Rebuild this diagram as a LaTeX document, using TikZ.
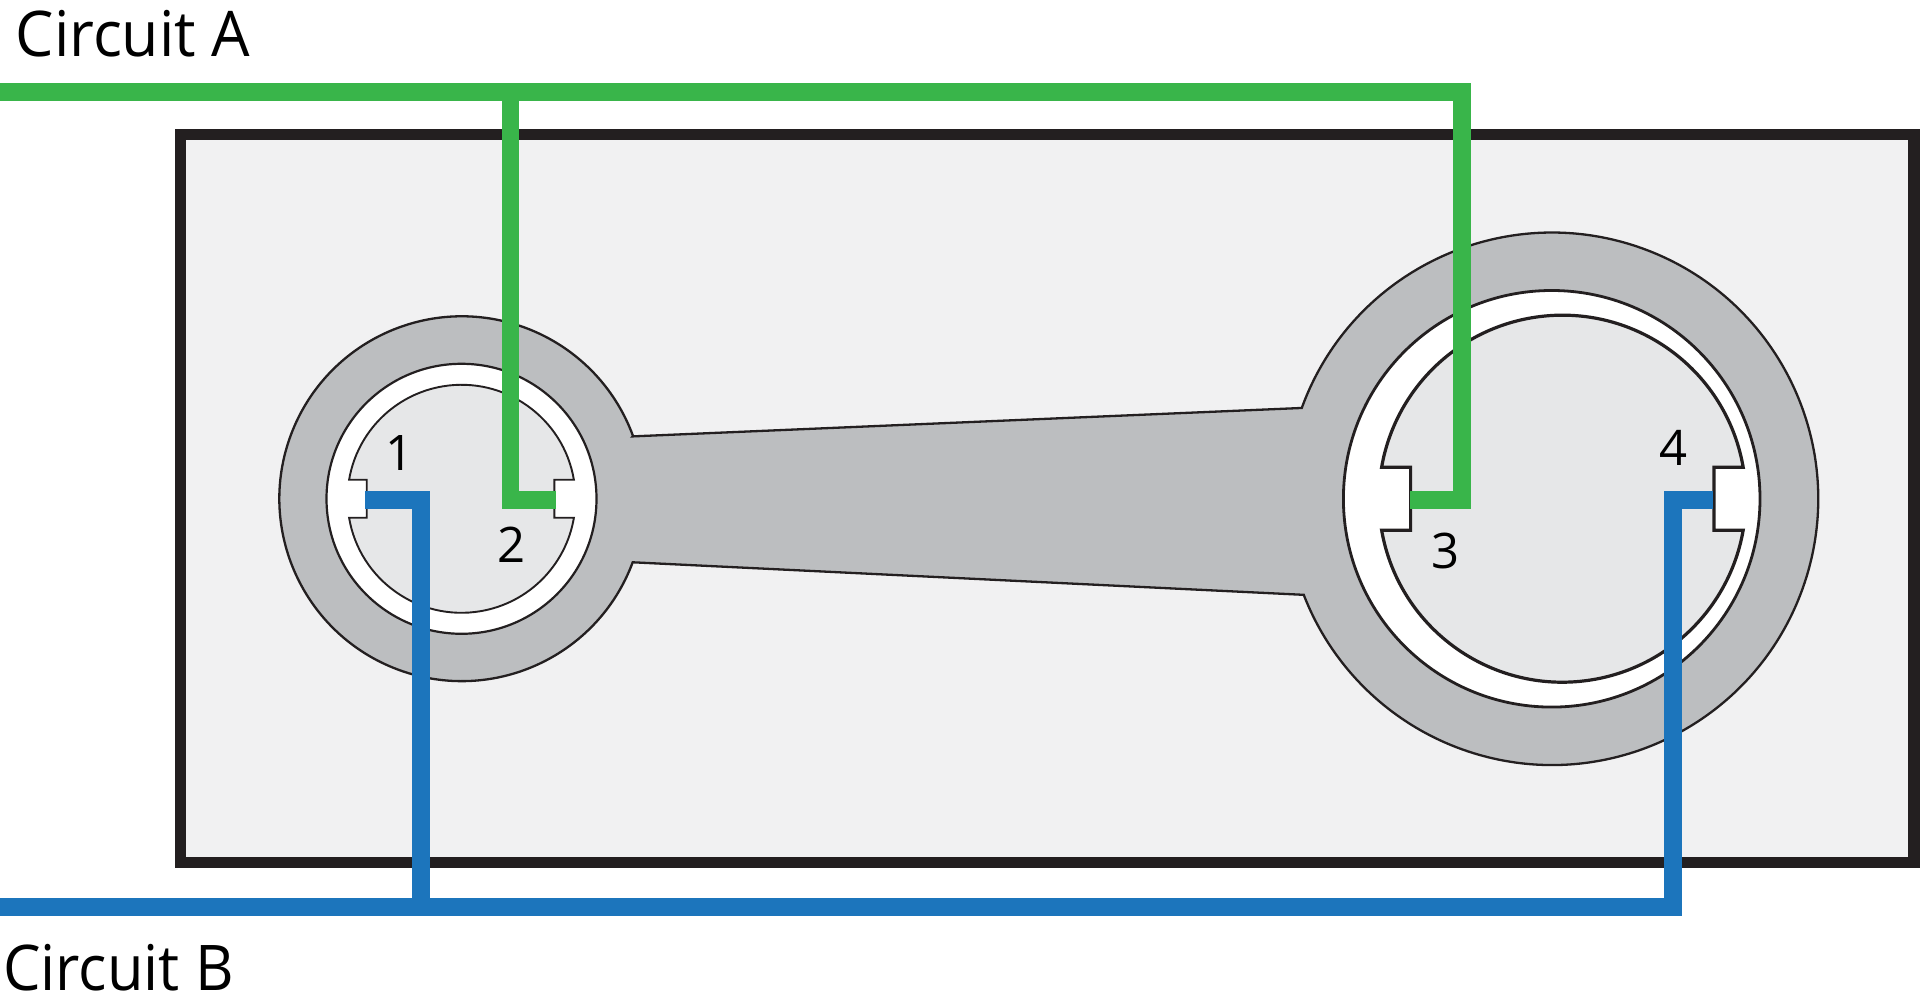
\documentclass[tikz,border=0pt]{standalone}
\usepackage{graphicx}
\usepackage{fontspec}
\setmainfont{Open Sans}
\definecolor{wireA}{HTML}{39B54A}
\definecolor{wireB}{HTML}{1C75BC}
\definecolor{frameK}{HTML}{231F20}
\definecolor{bodyF}{HTML}{F1F1F2}
\definecolor{handleF}{HTML}{BCBEC0}
\definecolor{padF}{HTML}{E6E7E8}
\tikzset{
  wirea/.style={draw=wireA,line width=17.7pt,line cap=butt,line join=miter,miter limit=10},
  wireb/.style={draw=wireB,line width=17.7pt,line cap=butt,line join=miter,miter limit=10},
  outline/.style={draw=frameK,line join=miter},
  title/.style={inner sep=0pt,anchor=base west,font=\fontsize{63}{70}\selectfont,text=black},
  digit/.style={inner sep=0pt,anchor=base,font=\fontsize{49}{55}\selectfont,text=black}
}
\begin{document}
\begin{tikzpicture}[x=1pt,y=1pt]
\useasboundingbox (0,0) rectangle (1920,1006);
\fill[white] (0,0) rectangle (1920,1006);
% body
\draw[draw=frameK,fill=bodyF,line width=11.5pt,line join=miter] (180.7,871.3) rectangle (1914,143.4);
% handle and two collars
\draw[outline,fill=handleF,line width=2.3pt]
  (632.7,569.6) -- ([shift={(1552,507.2)}]160.05:266.2)
  arc[start angle=160.05,end angle=-158.85,radius=266.2]
  -- (632.7,443.7)
  arc[start angle=-20.4,end angle=-339.9,radius=182.4] -- cycle;
% white rings
\draw[outline,fill=white,line width=2.2pt] (461.5,507.2) circle[radius=135];
\draw[outline,fill=white,line width=2.8pt] (1551.7,507.2) circle[radius=208.3];
% left pad
\draw[outline,fill=padF,line width=1.9pt]
  ([shift={(461.5,507.2)}]9.6:114) arc[start angle=9.6,end angle=170.4,radius=114]
  -- (366.7,526.2) -- (366.7,488.2) -- ([shift={(461.5,507.2)}]189.6:114)
  arc[start angle=189.6,end angle=350.4,radius=114]
  -- (554.3,488.2) -- (554.3,526.2) -- cycle;
% right pad
\draw[outline,fill=padF,line width=3.2pt]
  ([shift={(1562.4,507.3)}]9.88:183.5) arc[start angle=9.88,end angle=170.12,radius=183.5]
  -- (1410.6,538.8) -- (1410.6,475.8) -- ([shift={(1562.4,507.3)}]189.88:183.5)
  arc[start angle=189.88,end angle=350.12,radius=183.5]
  -- (1714,475.8) -- (1714,538.8) -- cycle;
% terminals
\coordinate (aStart) at (0,913.8);
\coordinate (aTee) at (510.5,913.8);
\coordinate (aEnd) at (1462.2,913.8);
\coordinate (pinTwo) at (555.7,505.7);
\coordinate (pinThree) at (1409.8,505.7);
\coordinate (bStart) at (0,99.2);
\coordinate (bTee) at (421,99.2);
\coordinate (bEnd) at (1672.8,99.2);
\coordinate (pinOne) at (365.3,505.7);
\coordinate (pinFour) at (1713,505.7);
% wires
\draw[wirea] (aTee) -- (aTee |- pinTwo) -- (pinTwo);
\draw[wirea] (aStart) -- (aEnd) -- (aEnd |- pinThree) -- (pinThree);
\draw[wireb] (bTee) -- (bTee |- pinOne) -- (pinOne);
\draw[wireb] (bStart) -- (bEnd) -- (bEnd |- pinFour) -- (pinFour);
% labels
\node[title] (circuitA) at (15.5,949) {\scalebox{0.965}[1]{Circuit A}};
\node[title] (circuitB) at (3,15.5) {\scalebox{0.945}[1]{Circuit B}};
\node[digit] (one) at (400,535) {1};
\node[digit] (two) at (511.7,443.3) {2};
\node[digit] (three) at (1445,437) {3};
\node[digit] (four) at (1673.2,540) {4};
\end{tikzpicture}
\end{document}
